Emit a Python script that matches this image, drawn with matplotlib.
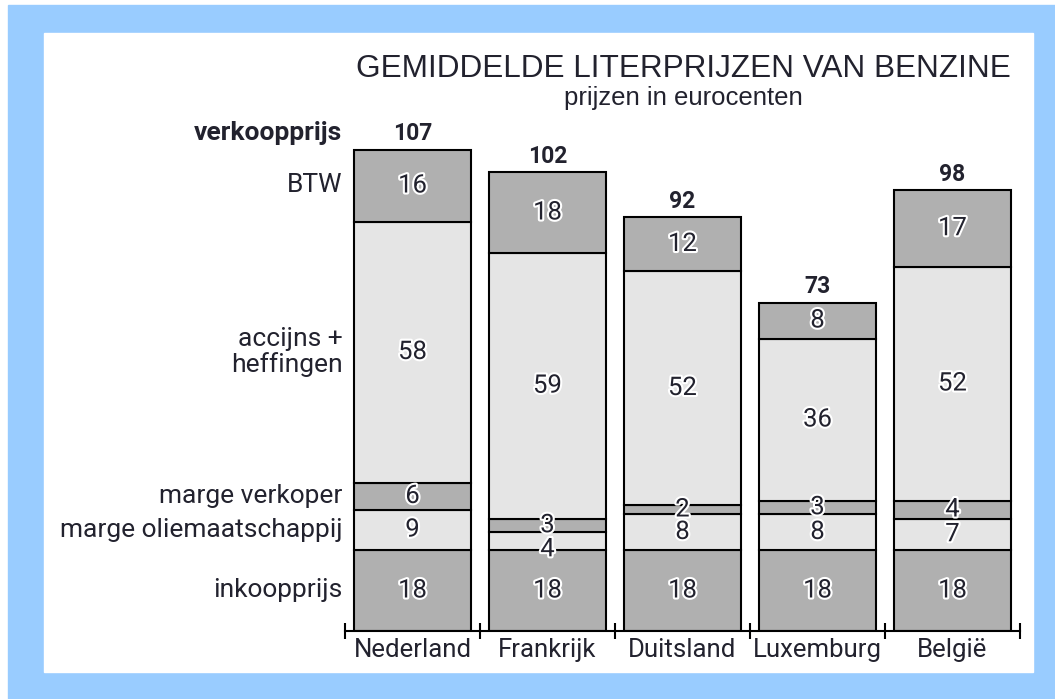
import matplotlib
matplotlib.use('Agg')
import matplotlib.pyplot as plt
import matplotlib.patheffects as pe
from matplotlib.patches import Rectangle
import numpy as np

# data (eurocent per liter)
landen = ['Nederland', 'Frankrijk', 'Duitsland', 'Luxemburg', 'België']
inkoopprijs = [18, 18, 18, 18, 18]
marge_olie = [9, 4, 8, 8, 7]
marge_verkoper = [6, 3, 2, 3, 4]
accijns = [58, 59, 52, 36, 52]
btw = [16, 18, 12, 8, 17]
verkoopprijs = [107, 102, 92, 73, 98]

lagen = [inkoopprijs, marge_olie, marge_verkoper, accijns, btw]
laag_namen = ['inkoopprijs', 'marge oliemaatschappij', 'marge verkoper',
              'accijns +\nheffingen', 'BTW']

donker = '#b0b0b0'
licht = '#e5e5e5'
kleuren = [donker, licht, donker, licht, donker]
tekst = '#22222e'

W, H = 1055, 699
fig = plt.figure(figsize=(W / 100, H / 100), dpi=100)
fig.patch.set_facecolor('white')

# blue frame + white panel
fig.patches.append(Rectangle((8 / W, 0), 1 - 8 / W, 1 - 5 / H,
                             transform=fig.transFigure, color='#99ccff', zorder=-2))
fig.patches.append(Rectangle((44 / W, 27 / H), (1033 - 44) / W, (672 - 33) / H,
                             transform=fig.transFigure, color='white', zorder=-1))

ax = fig.add_axes([345 / W, 68 / H, 675 / W, 495 / H])
ax.set_zorder(2)
ax.set_facecolor('none')
ax.set_xlim(-0.5, 4.5)
ax.set_ylim(0, 110)

x = np.arange(len(landen))
onder = np.zeros(len(landen))
halo = [pe.withStroke(linewidth=3, foreground='white')]
for i, (waarden, kleur) in enumerate(zip(lagen, kleuren)):
    ax.bar(x, waarden, width=0.867, bottom=onder, color=kleur,
           edgecolor='black', linewidth=1.5, zorder=2)
    for j, (xi, b, v) in enumerate(zip(x, onder, waarden)):
        # two thin layers on top of each other: push the lower label down a bit
        dy = 0
        if v < 5 and i + 1 < len(lagen) and lagen[i + 1][j] < 5:
            dy = -6
        ax.annotate(str(v), (xi, b + v / 2), xytext=(0, dy),
                    textcoords='offset points', ha='center', va='center',
                    fontsize=18.5, color=tekst, family='Roboto',
                    path_effects=halo, zorder=4)
    onder = onder + np.array(waarden)

for xi, tot in zip(x, verkoopprijs):
    ax.annotate(str(tot), (xi, tot), xytext=(0, 3), textcoords='offset points',
                ha='center', va='bottom', fontsize=16.5, fontweight='bold',
                color=tekst, family='Roboto')

# row labels at the Nederland segments
onder_nl = 0
for waarden, naam in zip(lagen, laag_namen):
    v = waarden[0]
    ax.text(-0.52, onder_nl + v / 2, naam, ha='right', va='center',
            fontsize=19, color=tekst, family='Roboto', clip_on=False,
            linespacing=1.05)
    onder_nl += v
ax.annotate('verkoopprijs', (-0.52, verkoopprijs[0]), xytext=(0, 3),
            textcoords='offset points', ha='right', va='bottom',
            fontsize=19, fontweight='bold', color=tekst, family='Roboto',
            annotation_clip=False)

for s in ['top', 'right', 'left']:
    ax.spines[s].set_visible(False)
ax.spines['bottom'].set_linewidth(1.5)
ax.spines['bottom'].set_zorder(5)
ax.set_yticks([])
ax.set_xticks(np.arange(-0.5, 5, 1))
ax.set_xticklabels([])
ax.tick_params(axis='x', which='major', direction='inout', length=11, width=1.5)
ax.set_xticks(x, minor=True)
ax.set_xticklabels(landen, minor=True, fontsize=18.5, color=tekst, family='Roboto')
ax.tick_params(axis='x', which='minor', length=0, pad=5)

fig.text(683 / W, 1 - 77 / H, 'GEMIDDELDE LITERPRIJZEN VAN BENZINE',
         ha='center', va='baseline', fontsize=22.7, color=tekst,
         family='Liberation Sans')
fig.text(683 / W, 1 - 105 / H, 'prijzen in eurocenten', ha='center',
         va='baseline', fontsize=18.5, color=tekst, family='Liberation Sans')

fig.savefig('out.png', dpi=100)
